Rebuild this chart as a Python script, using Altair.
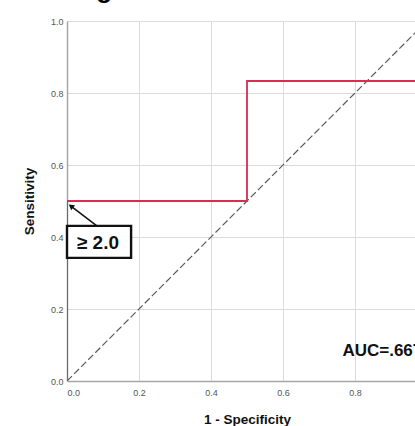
import altair as alt
import pandas as pd

# ROC step curve (1 - specificity, sensitivity)
roc_x = [0.0, 0.0, 0.5, 0.5, 1.0, 1.0]
roc_y = [0.0, 0.5, 0.5, 0.8333, 0.8333, 1.0]

# reference diagonal
diag_x = [0.0, 1.0]
diag_y = [0.0, 1.0]

# annotation box "≥ 2.0"
box_x = [0.0]
box_x2 = [0.178]
box_y = [0.342]
box_y2 = [0.431]
box_label = ["≥ 2.0"]
box_text_x = [0.086]
box_text_y = [0.384]

# arrow from box to cut-off point
arrow_x = [0.083, 0.011]
arrow_y = [0.431, 0.486]

# AUC label
auc_label = ["AUC=.667"]
auc_x = [0.765]
auc_y = [0.069]

# panel heading (only its lower part shows above the plot)
head_label = ["g"]
head_x = [0.081]
head_y = [1.065]

x_ticks = [0.0, 0.2, 0.4, 0.6, 0.8]
y_ticks = [0.0, 0.2, 0.4, 0.6, 0.8, 1.0]

XMAX = 348 / 360
xs = alt.Scale(domain=[0, XMAX], nice=False, zero=False)
ys = alt.Scale(domain=[0, 1], nice=False)

x_axis = alt.Axis(values=x_ticks, format=".1f", title="1 - Specificity", grid=True,
                  gridColor="#dcdcdc", domainColor="#a6a6a6", domainWidth=1.5,
                  ticks=False, labelColor="#555555", labelFontSize=9, labelPadding=7,
                  titleFontSize=13.5, titleFontWeight="bold", titleColor="#111111",
                  titlePadding=15, titleX=180, labelFont="Liberation Sans",
                  titleFont="Liberation Sans")
y_axis = alt.Axis(values=y_ticks, format=".1f", title="Sensitivity", grid=True,
                  gridColor="#dcdcdc", domainColor="#a6a6a6", domainWidth=1.5,
                  ticks=False, labelColor="#555555", labelFontSize=9, labelPadding=4,
                  titleFontSize=13.5, titleFontWeight="bold", titleColor="#111111",
                  titlePadding=14, labelFont="Liberation Sans",
                  titleFont="Liberation Sans")

roc_df = pd.DataFrame({"x": roc_x, "y": roc_y, "o": list(range(len(roc_x)))})
diag_df = pd.DataFrame({"x": diag_x, "y": diag_y})

base_axes = alt.Chart(pd.DataFrame({"x": [0.0], "y": [0.0]})).mark_point(opacity=0).encode(
    x=alt.X("x:Q", scale=xs, axis=x_axis),
    y=alt.Y("y:Q", scale=ys, axis=y_axis),
)

diag = alt.Chart(diag_df).mark_line(color="#5a5a5a", strokeWidth=1.2, strokeDash=[7, 3], clip=True).encode(
    x=alt.X("x:Q", scale=xs), y=alt.Y("y:Q", scale=ys)
)

roc = alt.Chart(roc_df).mark_line(color="#dc2a52", strokeWidth=1.8, clip=True).encode(
    x=alt.X("x:Q", scale=xs), y=alt.Y("y:Q", scale=ys), order="o:Q"
)

arrow_df = pd.DataFrame({"x": arrow_x, "y": arrow_y, "o": [0, 1]})
arrow_line = alt.Chart(arrow_df).mark_line(color="#111111", strokeWidth=1.5).encode(
    x=alt.X("x:Q", scale=xs), y=alt.Y("y:Q", scale=ys), order="o:Q"
)
arrow_head = alt.Chart(arrow_df.iloc[[1]]).mark_point(
    shape="triangle-up", filled=True, color="#111111", size=40, angle=307, opacity=1
).encode(x=alt.X("x:Q", scale=xs), y=alt.Y("y:Q", scale=ys))

box_df = pd.DataFrame({"x": box_x, "x2": box_x2, "y": box_y, "y2": box_y2,
                       "tx": box_text_x, "ty": box_text_y, "label": box_label})
box = alt.Chart(box_df).mark_rect(fill="white", stroke="#111111", strokeWidth=2.4).encode(
    x=alt.X("x:Q", scale=xs), x2="x2:Q", y=alt.Y("y:Q", scale=ys), y2="y2:Q"
)
box_text = alt.Chart(box_df).mark_text(fontSize=19, fontWeight="bold", font="Liberation Sans",
                                       color="#111111", align="center", baseline="middle").encode(
    x=alt.X("tx:Q", scale=xs), y=alt.Y("ty:Q", scale=ys), text="label:N"
)

auc_df = pd.DataFrame({"x": auc_x, "y": auc_y, "label": auc_label})
auc = alt.Chart(auc_df).mark_text(fontSize=17, fontWeight="bold", font="Liberation Sans",
                                  color="#111111", align="left", baseline="alphabetic",
                                  clip=True).encode(
    x=alt.X("x:Q", scale=xs), y=alt.Y("y:Q", scale=ys), text="label:N"
)

head_df = pd.DataFrame({"x": head_x, "y": head_y, "label": head_label})
head = alt.Chart(head_df).mark_text(fontSize=26, fontWeight="bold", font="Liberation Sans",
                                    color="#000000", align="left", baseline="alphabetic").encode(
    x=alt.X("x:Q", scale=xs), y=alt.Y("y:Q", scale=ys), text="label:N"
)

chart = alt.layer(base_axes, diag, roc, arrow_line, arrow_head, box, box_text, auc, head).properties(
    width=348, height=360,
    autosize=alt.AutoSizeParams(type="none"),
    padding={"left": 67, "top": 21, "right": 0, "bottom": 45},
    background="white",
).configure_view(strokeWidth=0)

chart.save("out.html", embed_options={"renderer": "svg", "actions": False})
